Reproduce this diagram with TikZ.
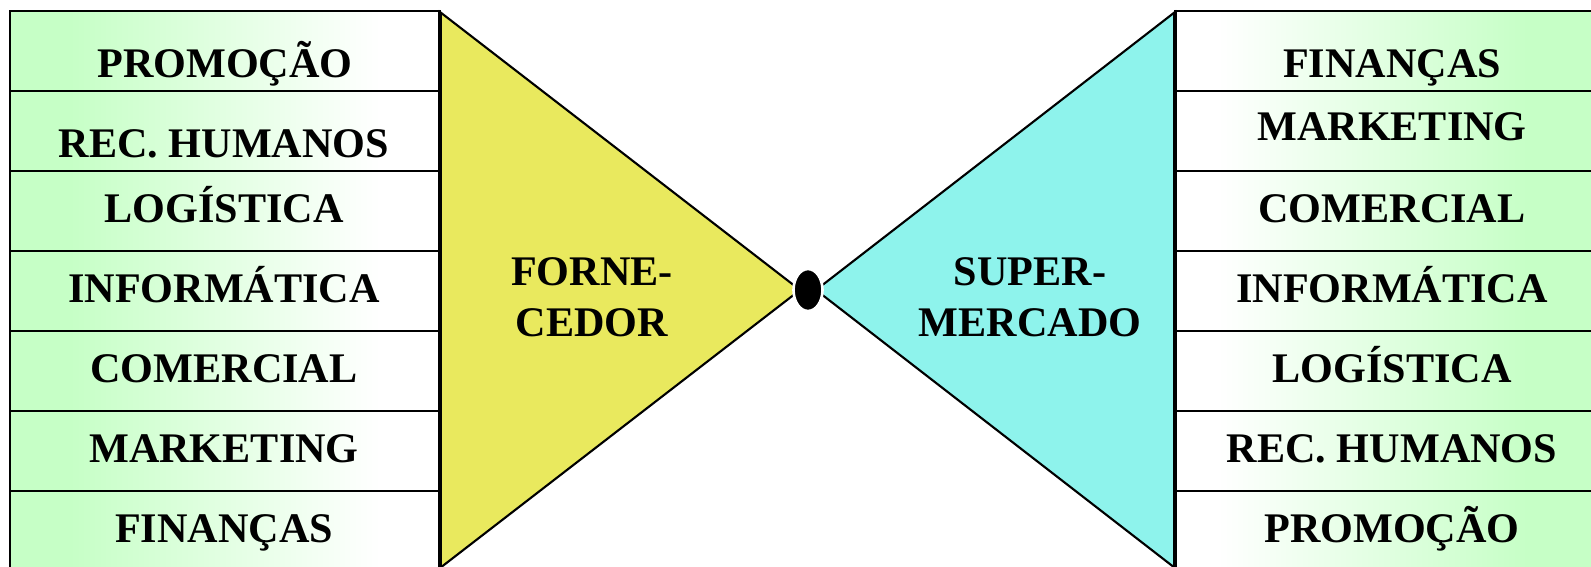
\documentclass[tikz,border=0pt]{standalone}
\usepackage{fontspec}
\setmainfont{Liberation Serif}
\usetikzlibrary{shapes.geometric}

\definecolor{panelgreen}{RGB}{198,255,198}
\definecolor{fornyellow}{RGB}{233,233,94}
\definecolor{supercyan}{RGB}{142,243,236}

\pgfdeclarehorizontalshading{fadeleft}{100bp}{color(0bp)=(panelgreen); color(32bp)=(panelgreen); color(68bp)=(white); color(100bp)=(white)}
\pgfdeclarehorizontalshading{faderight}{100bp}{color(0bp)=(white); color(30bp)=(white); color(66bp)=(panelgreen); color(100bp)=(panelgreen)}

\begin{document}
\begin{tikzpicture}[x=0.02cm, y=-0.02cm,
    rowbox/.style={draw, line width=1.5pt, rectangle, minimum width=8.6cm, minimum height=1.6cm, inner sep=0pt},
    rowtext/.style={font=\bfseries\fontsize{24}{29}\selectfont, inner sep=0pt, anchor=base},
    sidetext/.style={font=\bfseries\fontsize{24}{29}\selectfont, align=center, inner sep=0pt}]
    \useasboundingbox (0,0) rectangle (1591,566);
    \clip (0,0) rectangle (1591,566);

    % Draw left panel
    \node (lrow1) at (225,51) [rowbox, shading=fadeleft] {};
    \node (lrow2) at (225,131) [rowbox, shading=fadeleft] {};
    \node (lrow3) at (225,211) [rowbox, shading=fadeleft] {};
    \node (lrow4) at (225,291) [rowbox, shading=fadeleft] {};
    \node (lrow5) at (225,371) [rowbox, shading=fadeleft] {};
    \node (lrow6) at (225,451) [rowbox, shading=fadeleft] {};
    \node (lrow7) at (225,531) [rowbox, shading=fadeleft] {};

    \node (lpromo) at (225,77) [rowtext] {PROMOÇÃO};
    \node (lrh) at (224,157) [rowtext] {REC. HUMANOS};
    \node (llog) at (224,222) [rowtext] {LOGÍSTICA};
    \node (linfo) at (224,302) [rowtext] {INFORMÁTICA};
    \node (lcom) at (224,382) [rowtext] {COMERCIAL};
    \node (lmkt) at (224,462) [rowtext] {MARKETING};
    \node (lfin) at (224,542) [rowtext] {FINANÇAS};

    % Draw right panel
    \node (rrow1) at (1390,51) [rowbox, shading=faderight] {};
    \node (rrow2) at (1390,131) [rowbox, shading=faderight] {};
    \node (rrow3) at (1390,211) [rowbox, shading=faderight] {};
    \node (rrow4) at (1390,291) [rowbox, shading=faderight] {};
    \node (rrow5) at (1390,371) [rowbox, shading=faderight] {};
    \node (rrow6) at (1390,451) [rowbox, shading=faderight] {};
    \node (rrow7) at (1390,531) [rowbox, shading=faderight] {};

    \node (rfin) at (1392,77) [rowtext] {FINANÇAS};
    \node (rmkt) at (1392,140) [rowtext] {MARKETING};
    \node (rcom) at (1392,222) [rowtext] {COMERCIAL};
    \node (rinfo) at (1392,302) [rowtext] {INFORMÁTICA};
    \node (rlog) at (1392,382) [rowtext] {LOGÍSTICA};
    \node (rrh) at (1392,462) [rowtext] {REC. HUMANOS};
    \node (rpromo) at (1392,542) [rowtext] {PROMOÇÃO};

    % Draw triangles
    \coordinate (ltop) at (440,12);
    \coordinate (lapex) at (800,290);
    \coordinate (lbot) at (440,568);
    \coordinate (rtop) at (1175,12);
    \coordinate (rapex) at (816,290);
    \coordinate (rbot) at (1175,568);

    \draw[fill=fornyellow, line width=1.2pt] (ltop) -- (lapex) -- (lbot) -- cycle;
    \draw[fill=supercyan, line width=1.2pt] (rtop) -- (rapex) -- (rbot) -- cycle;
    \draw[line width=2.6pt] (ltop) -- (lbot);
    \draw[line width=2.6pt] (rtop) -- (rbot);

    \node (forn) at (592,297) [sidetext] {FORNE-\\CEDOR};
    \node (super) at (1030,297) [sidetext] {SUPER-\\MERCADO};

    % Draw hub
    \node (hub) at (808,290) [ellipse, fill=black, draw=white, line width=1.5pt, minimum width=0.58cm, minimum height=0.84cm, inner sep=0pt] {};
\end{tikzpicture}
\end{document}
